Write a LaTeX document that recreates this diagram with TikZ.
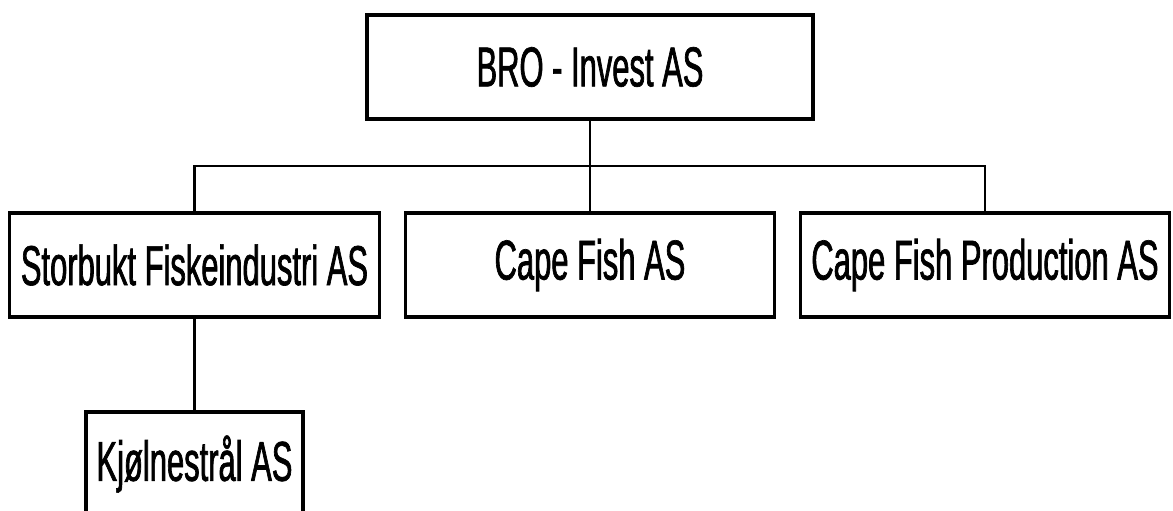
\documentclass[tikz,border=0pt]{standalone}
\usepackage{fontspec}
\setmainfont{Liberation Sans}[FakeStretch=0.55, FakeBold=1.2]
\usetikzlibrary{positioning}
\usetikzlibrary{calc}

\tikzset{
  company/.style={draw, line width=2.1pt, outer sep=0pt, inner sep=0pt,
    minimum height=2.08cm, font=\fontsize{32}{38}\selectfont},
  link/.style={line width=1.4pt}
}

\begin{document}
\begin{tikzpicture}

  % Page frame
  \useasboundingbox (-11.8,1.34) rectangle (11.66,-8.88);

  % Define nodes
  \node[company, minimum width=8.92cm] (bro) {BRO - Invest AS};
  \node[company, minimum width=7.38cm, below=1.88cm of bro] (cape) {Cape Fish AS};
  \node[company, minimum width=7.4cm, left=0.52cm of cape] (storbukt) {Storbukt Fiskeindustri AS};
  \node[company, minimum width=7.38cm, right=0.52cm of cape] (production) {Cape Fish Production AS};
  \node[company, minimum width=4.34cm, below=1.9cm of storbukt] (kjoelne) {Kjølnestrål AS};

  \coordinate (bus) at ($(bro.south)!0.5!(cape.north)$);

  % Connect nodes
  \draw[link] (bro.south) -- (cape.north);
  \draw[link] (storbukt.north) |- (bus) -| (production.north);
  \draw[link] (storbukt.south) -- (kjoelne.north);

\end{tikzpicture}
\end{document}
